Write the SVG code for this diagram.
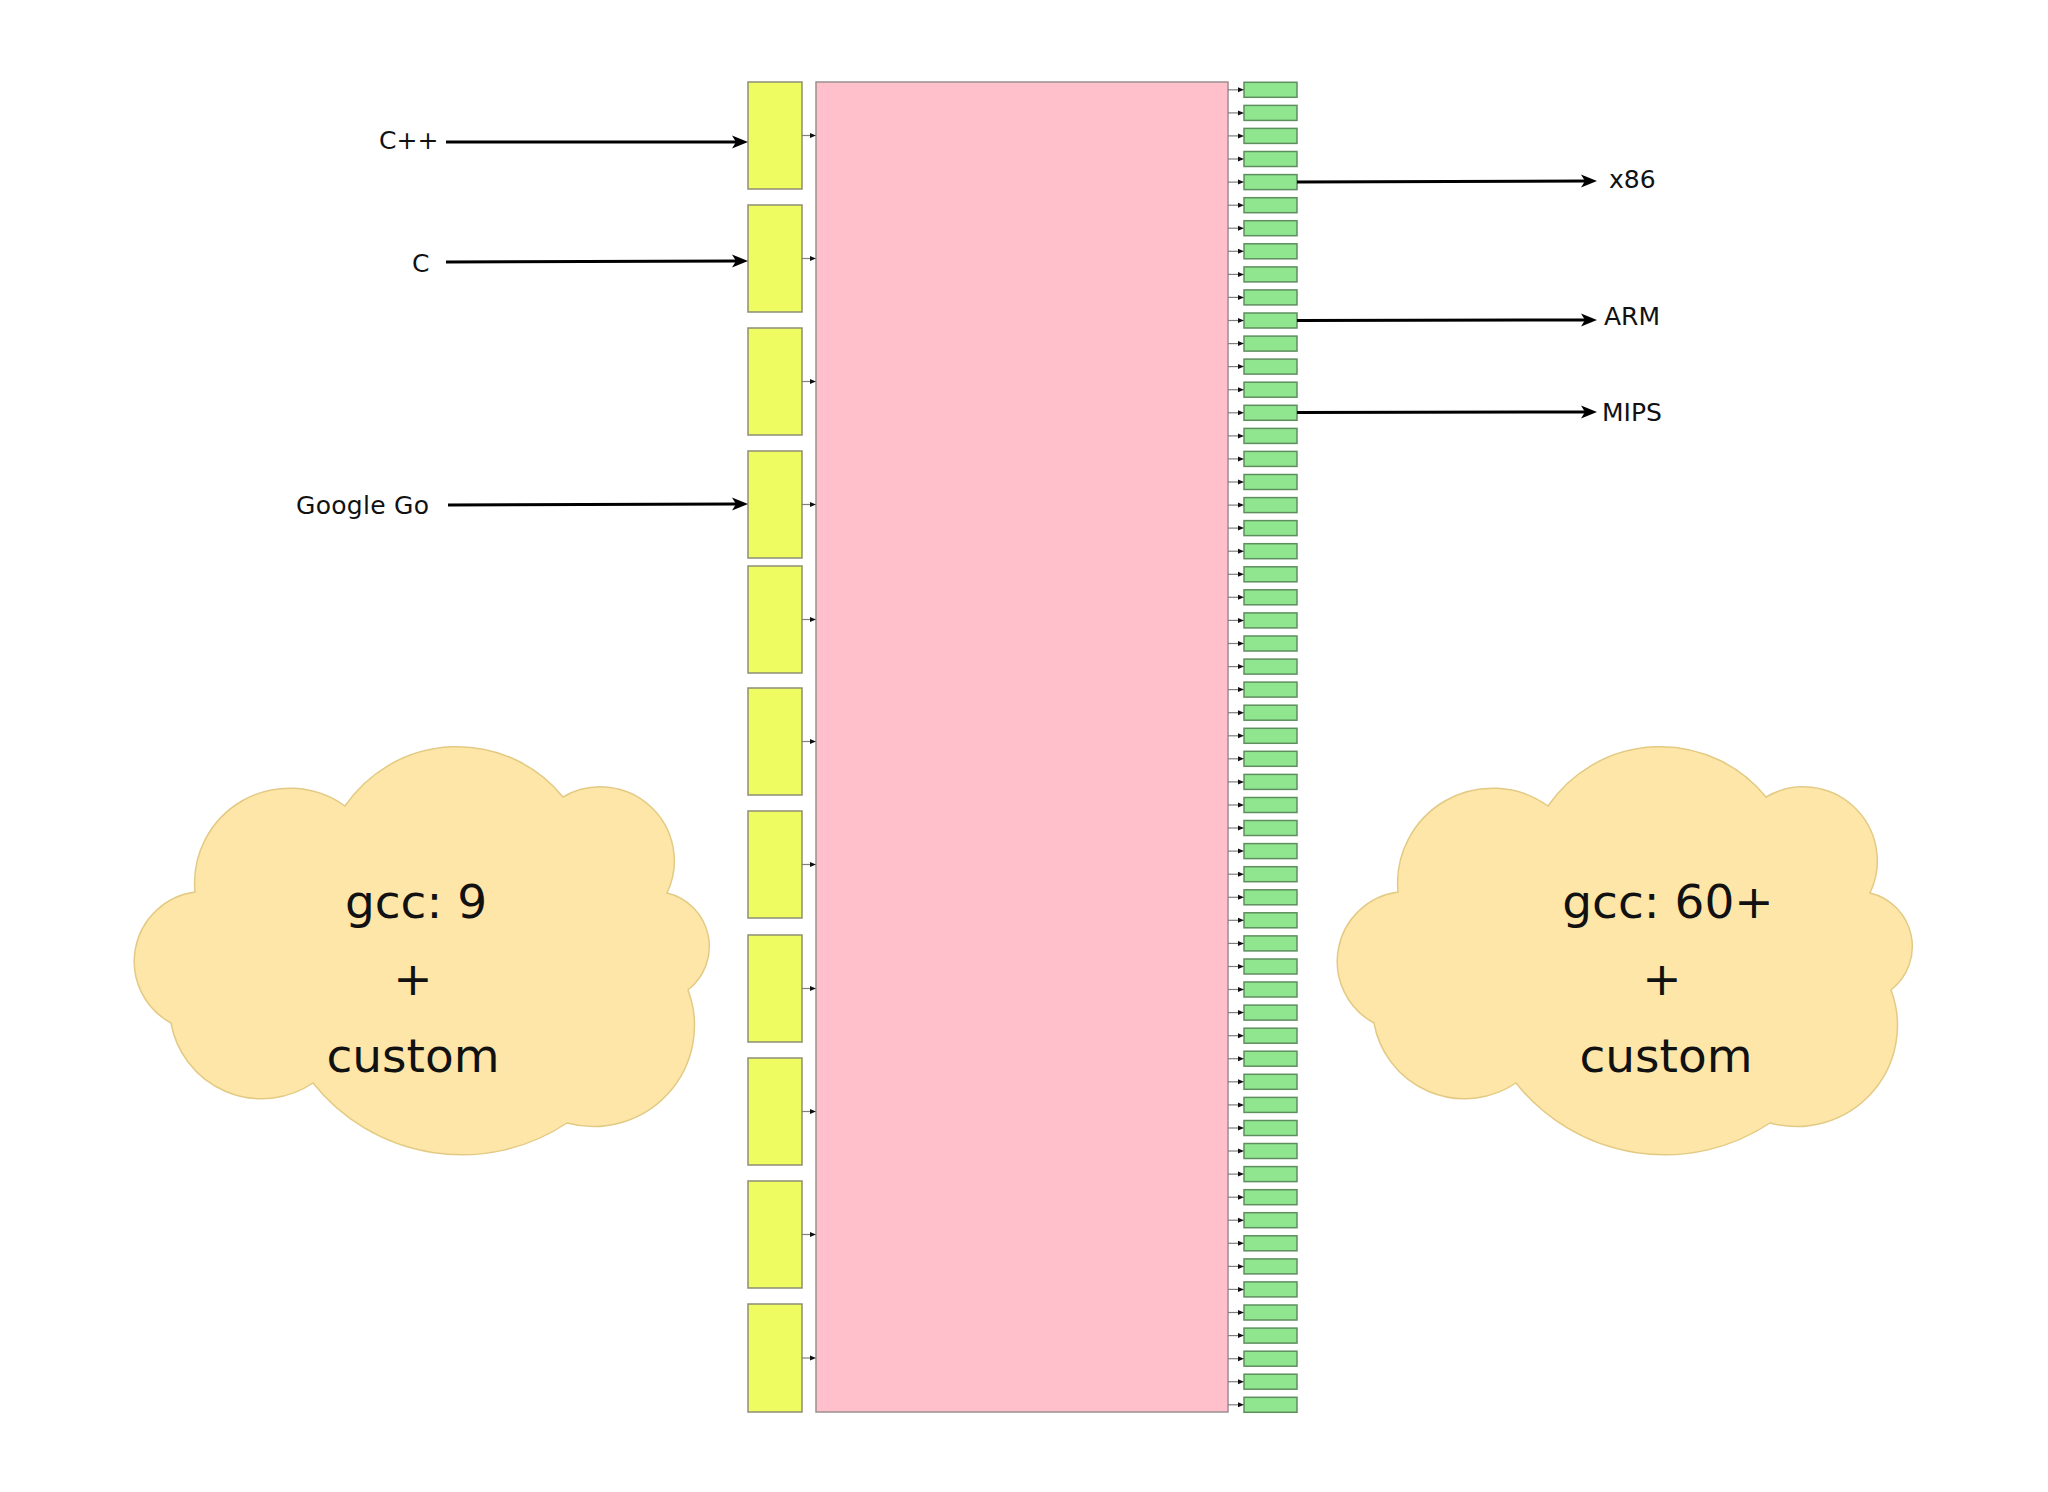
<svg xmlns="http://www.w3.org/2000/svg" xmlns:xlink="http://www.w3.org/1999/xlink" width="2048" height="1492" viewBox="0 0 2048 1492">
<style>
text{font-family:"DejaVu Sans","Liberation Sans",sans-serif;fill:#111}
.lbl{font-size:25px}
.big{font-size:47px;text-anchor:middle}
.yb{fill:#eefc62;stroke:#8e8e74;stroke-width:1.5}
.gb{fill:#8fe68f;stroke:#5e8e5e;stroke-width:1.5}
.pk{fill:#ffc0cb;stroke:#9a9090;stroke-width:1.5}
.cloud{fill:#fde6a7;stroke:#e3ca84;stroke-width:1.5}
.arr{stroke:#000;stroke-width:3;fill:none;marker-end:url(#ah)}
.sm{stroke:#808080;stroke-width:1.2;fill:none;marker-end:url(#sa)}
</style>
<defs>
<marker id="ah" markerUnits="userSpaceOnUse" viewBox="-6 -8 18 16" refX="0" refY="0" markerWidth="18" markerHeight="16" orient="auto">
<path d="M11,0 L-5,-6.5 L-1,0 L-5,6.5 Z" fill="#000"/>
</marker>
<marker id="sa" markerUnits="userSpaceOnUse" viewBox="-4 -4 8 8" refX="0" refY="0" markerWidth="8" markerHeight="8" orient="auto">
<path d="M3,0 L-3,-2.5 L-3,2.5 Z" fill="#111"/>
</marker>
<path id="cl" d="M195,892 A95,95 0 0 1 345,806 A136,136 0 0 1 563,797 A74,74 0 0 1 667,893 A55,55 0 0 1 688,990 A101,101 0 0 1 567,1123 A190,190 0 0 1 313,1083 A92,92 0 0 1 171,1023 A70,70 0 0 1 195,892 Z"/>
</defs>
<rect width="2048" height="1492" fill="#fff"/>

<g id="cloud-left">
<use xlink:href="#cl" href="#cl" class="cloud"/>
<text class="big" x="416" y="918">gcc: 9</text>
<text class="big" x="413" y="995">+</text>
<text class="big" x="413" y="1072">custom</text>
</g>
<g id="cloud-right">
<use xlink:href="#cl" href="#cl" class="cloud" transform="translate(1203,0)"/>
<text class="big" x="1668" y="918">gcc: 60+</text>
<text class="big" x="1662" y="995">+</text>
<text class="big" x="1666" y="1072">custom</text>
</g>

<g id="core"><rect class="pk" x="816" y="82" width="412" height="1330"/></g>

<g id="frontends">
<g id="fe0"><rect class="yb" x="748" y="82" width="54" height="107"/></g>
<g id="fe1"><rect class="yb" x="748" y="205" width="54" height="107"/></g>
<g id="fe2"><rect class="yb" x="748" y="328" width="54" height="107"/></g>
<g id="fe3"><rect class="yb" x="748" y="451" width="54" height="107"/></g>
<g id="fe4"><rect class="yb" x="748" y="566" width="54" height="107"/></g>
<g id="fe5"><rect class="yb" x="748" y="688" width="54" height="107"/></g>
<g id="fe6"><rect class="yb" x="748" y="811" width="54" height="107"/></g>
<g id="fe7"><rect class="yb" x="748" y="935" width="54" height="107"/></g>
<g id="fe8"><rect class="yb" x="748" y="1058" width="54" height="107"/></g>
<g id="fe9"><rect class="yb" x="748" y="1181" width="54" height="107"/></g>
<g id="fe10"><rect class="yb" x="748" y="1304" width="54" height="108"/></g>
</g>

<g id="backends">
<g id="be0"><rect class="gb" x="1244" y="82.3" width="53" height="15"/></g>
<g id="be1"><rect class="gb" x="1244" y="105.4" width="53" height="15"/></g>
<g id="be2"><rect class="gb" x="1244" y="128.4" width="53" height="15"/></g>
<g id="be3"><rect class="gb" x="1244" y="151.5" width="53" height="15"/></g>
<g id="be4"><rect class="gb" x="1244" y="174.6" width="53" height="15"/></g>
<g id="be5"><rect class="gb" x="1244" y="197.7" width="53" height="15"/></g>
<g id="be6"><rect class="gb" x="1244" y="220.7" width="53" height="15"/></g>
<g id="be7"><rect class="gb" x="1244" y="243.8" width="53" height="15"/></g>
<g id="be8"><rect class="gb" x="1244" y="266.9" width="53" height="15"/></g>
<g id="be9"><rect class="gb" x="1244" y="289.9" width="53" height="15"/></g>
<g id="be10"><rect class="gb" x="1244" y="313.0" width="53" height="15"/></g>
<g id="be11"><rect class="gb" x="1244" y="336.1" width="53" height="15"/></g>
<g id="be12"><rect class="gb" x="1244" y="359.1" width="53" height="15"/></g>
<g id="be13"><rect class="gb" x="1244" y="382.2" width="53" height="15"/></g>
<g id="be14"><rect class="gb" x="1244" y="405.3" width="53" height="15"/></g>
<g id="be15"><rect class="gb" x="1244" y="428.4" width="53" height="15"/></g>
<g id="be16"><rect class="gb" x="1244" y="451.4" width="53" height="15"/></g>
<g id="be17"><rect class="gb" x="1244" y="474.5" width="53" height="15"/></g>
<g id="be18"><rect class="gb" x="1244" y="497.6" width="53" height="15"/></g>
<g id="be19"><rect class="gb" x="1244" y="520.6" width="53" height="15"/></g>
<g id="be20"><rect class="gb" x="1244" y="543.7" width="53" height="15"/></g>
<g id="be21"><rect class="gb" x="1244" y="566.8" width="53" height="15"/></g>
<g id="be22"><rect class="gb" x="1244" y="589.8" width="53" height="15"/></g>
<g id="be23"><rect class="gb" x="1244" y="612.9" width="53" height="15"/></g>
<g id="be24"><rect class="gb" x="1244" y="636.0" width="53" height="15"/></g>
<g id="be25"><rect class="gb" x="1244" y="659.1" width="53" height="15"/></g>
<g id="be26"><rect class="gb" x="1244" y="682.1" width="53" height="15"/></g>
<g id="be27"><rect class="gb" x="1244" y="705.2" width="53" height="15"/></g>
<g id="be28"><rect class="gb" x="1244" y="728.3" width="53" height="15"/></g>
<g id="be29"><rect class="gb" x="1244" y="751.3" width="53" height="15"/></g>
<g id="be30"><rect class="gb" x="1244" y="774.4" width="53" height="15"/></g>
<g id="be31"><rect class="gb" x="1244" y="797.5" width="53" height="15"/></g>
<g id="be32"><rect class="gb" x="1244" y="820.5" width="53" height="15"/></g>
<g id="be33"><rect class="gb" x="1244" y="843.6" width="53" height="15"/></g>
<g id="be34"><rect class="gb" x="1244" y="866.7" width="53" height="15"/></g>
<g id="be35"><rect class="gb" x="1244" y="889.8" width="53" height="15"/></g>
<g id="be36"><rect class="gb" x="1244" y="912.8" width="53" height="15"/></g>
<g id="be37"><rect class="gb" x="1244" y="935.9" width="53" height="15"/></g>
<g id="be38"><rect class="gb" x="1244" y="959.0" width="53" height="15"/></g>
<g id="be39"><rect class="gb" x="1244" y="982.0" width="53" height="15"/></g>
<g id="be40"><rect class="gb" x="1244" y="1005.1" width="53" height="15"/></g>
<g id="be41"><rect class="gb" x="1244" y="1028.2" width="53" height="15"/></g>
<g id="be42"><rect class="gb" x="1244" y="1051.2" width="53" height="15"/></g>
<g id="be43"><rect class="gb" x="1244" y="1074.3" width="53" height="15"/></g>
<g id="be44"><rect class="gb" x="1244" y="1097.4" width="53" height="15"/></g>
<g id="be45"><rect class="gb" x="1244" y="1120.5" width="53" height="15"/></g>
<g id="be46"><rect class="gb" x="1244" y="1143.5" width="53" height="15"/></g>
<g id="be47"><rect class="gb" x="1244" y="1166.6" width="53" height="15"/></g>
<g id="be48"><rect class="gb" x="1244" y="1189.7" width="53" height="15"/></g>
<g id="be49"><rect class="gb" x="1244" y="1212.7" width="53" height="15"/></g>
<g id="be50"><rect class="gb" x="1244" y="1235.8" width="53" height="15"/></g>
<g id="be51"><rect class="gb" x="1244" y="1258.9" width="53" height="15"/></g>
<g id="be52"><rect class="gb" x="1244" y="1281.9" width="53" height="15"/></g>
<g id="be53"><rect class="gb" x="1244" y="1305.0" width="53" height="15"/></g>
<g id="be54"><rect class="gb" x="1244" y="1328.1" width="53" height="15"/></g>
<g id="be55"><rect class="gb" x="1244" y="1351.2" width="53" height="15"/></g>
<g id="be56"><rect class="gb" x="1244" y="1374.2" width="53" height="15"/></g>
<g id="be57"><rect class="gb" x="1244" y="1397.3" width="53" height="15"/></g>
</g>

<g id="labels">
<text class="lbl" x="379" y="149">C++</text>
<text class="lbl" x="412" y="272">C</text>
<text class="lbl" x="296" y="514" textLength="133">Google Go</text>
<text class="lbl" x="1609" y="188">x86</text>
<text class="lbl" x="1604" y="325">ARM</text>
<text class="lbl" x="1602" y="421">MIPS</text>
</g>

<g id="connectors">
<path class="arr" d="M446,142 L737,142"/>
<path class="arr" d="M446,262 L737,261"/>
<path class="arr" d="M448,505 L737,504"/>
<path class="arr" d="M1297,182 L1586,181"/>
<path class="arr" d="M1297,320.5 L1586,320"/>
<path class="arr" d="M1297,412.5 L1586,412"/>
<g id="fe-links">
<path class="sm" d="M802,135.5 H813"/>
<path class="sm" d="M802,258.5 H813"/>
<path class="sm" d="M802,381.5 H813"/>
<path class="sm" d="M802,504.5 H813"/>
<path class="sm" d="M802,619.5 H813"/>
<path class="sm" d="M802,741.5 H813"/>
<path class="sm" d="M802,864.5 H813"/>
<path class="sm" d="M802,988.5 H813"/>
<path class="sm" d="M802,1111.5 H813"/>
<path class="sm" d="M802,1234.5 H813"/>
<path class="sm" d="M802,1358 H813"/>
</g>
<g id="be-links">
<path class="sm" d="M1228,89.8 H1241"/>
<path class="sm" d="M1228,112.9 H1241"/>
<path class="sm" d="M1228,135.9 H1241"/>
<path class="sm" d="M1228,159.0 H1241"/>
<path class="sm" d="M1228,182.1 H1241"/>
<path class="sm" d="M1228,205.2 H1241"/>
<path class="sm" d="M1228,228.2 H1241"/>
<path class="sm" d="M1228,251.3 H1241"/>
<path class="sm" d="M1228,274.4 H1241"/>
<path class="sm" d="M1228,297.4 H1241"/>
<path class="sm" d="M1228,320.5 H1241"/>
<path class="sm" d="M1228,343.6 H1241"/>
<path class="sm" d="M1228,366.6 H1241"/>
<path class="sm" d="M1228,389.7 H1241"/>
<path class="sm" d="M1228,412.8 H1241"/>
<path class="sm" d="M1228,435.9 H1241"/>
<path class="sm" d="M1228,458.9 H1241"/>
<path class="sm" d="M1228,482.0 H1241"/>
<path class="sm" d="M1228,505.1 H1241"/>
<path class="sm" d="M1228,528.1 H1241"/>
<path class="sm" d="M1228,551.2 H1241"/>
<path class="sm" d="M1228,574.3 H1241"/>
<path class="sm" d="M1228,597.3 H1241"/>
<path class="sm" d="M1228,620.4 H1241"/>
<path class="sm" d="M1228,643.5 H1241"/>
<path class="sm" d="M1228,666.6 H1241"/>
<path class="sm" d="M1228,689.6 H1241"/>
<path class="sm" d="M1228,712.7 H1241"/>
<path class="sm" d="M1228,735.8 H1241"/>
<path class="sm" d="M1228,758.8 H1241"/>
<path class="sm" d="M1228,781.9 H1241"/>
<path class="sm" d="M1228,805.0 H1241"/>
<path class="sm" d="M1228,828.0 H1241"/>
<path class="sm" d="M1228,851.1 H1241"/>
<path class="sm" d="M1228,874.2 H1241"/>
<path class="sm" d="M1228,897.3 H1241"/>
<path class="sm" d="M1228,920.3 H1241"/>
<path class="sm" d="M1228,943.4 H1241"/>
<path class="sm" d="M1228,966.5 H1241"/>
<path class="sm" d="M1228,989.5 H1241"/>
<path class="sm" d="M1228,1012.6 H1241"/>
<path class="sm" d="M1228,1035.7 H1241"/>
<path class="sm" d="M1228,1058.7 H1241"/>
<path class="sm" d="M1228,1081.8 H1241"/>
<path class="sm" d="M1228,1104.9 H1241"/>
<path class="sm" d="M1228,1128.0 H1241"/>
<path class="sm" d="M1228,1151.0 H1241"/>
<path class="sm" d="M1228,1174.1 H1241"/>
<path class="sm" d="M1228,1197.2 H1241"/>
<path class="sm" d="M1228,1220.2 H1241"/>
<path class="sm" d="M1228,1243.3 H1241"/>
<path class="sm" d="M1228,1266.4 H1241"/>
<path class="sm" d="M1228,1289.4 H1241"/>
<path class="sm" d="M1228,1312.5 H1241"/>
<path class="sm" d="M1228,1335.6 H1241"/>
<path class="sm" d="M1228,1358.7 H1241"/>
<path class="sm" d="M1228,1381.7 H1241"/>
<path class="sm" d="M1228,1404.8 H1241"/>
</g>
</g>
</svg>
